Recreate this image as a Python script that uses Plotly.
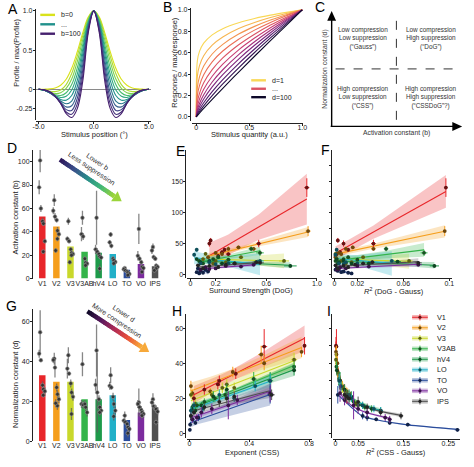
import numpy as np
import plotly.graph_objects as go

W, H = 474, 467
FONT = "Liberation Sans, Arial, Helvetica, sans-serif"

# ======================= DATA =======================
ROIS = ["V1", "V2", "V3", "V3AB", "hV4", "LO", "TO", "VO", "IPS"]

# --- A: normalised DoG profiles (right half, mirrored), b = 0 ... 100
PROFILE_POS = [0.0, 0.5, 1.0, 1.5, 2.0, 2.5, 3.0, 3.5, 4.0, 4.5, 5.0]
PROF_B000 = [1.0, 0.921, 0.719, 0.475, 0.267, 0.127, 0.051, 0.017, 0.005, 0.001, 0.0]
PROF_B010 = [1.0, 0.905, 0.680, 0.420, 0.200, 0.060, -0.010, -0.030, -0.025, -0.010, 0.0]
PROF_B020 = [1.0, 0.890, 0.630, 0.350, 0.130, 0.010, -0.045, -0.055, -0.035, -0.012, 0.0]
PROF_B030 = [1.0, 0.870, 0.570, 0.270, 0.060, -0.045, -0.080, -0.070, -0.040, -0.013, 0.0]
PROF_B040 = [1.0, 0.850, 0.510, 0.190, -0.010, -0.090, -0.105, -0.080, -0.045, -0.014, 0.0]
PROF_B050 = [1.0, 0.830, 0.450, 0.110, -0.080, -0.140, -0.130, -0.090, -0.045, -0.014, 0.0]
PROF_B060 = [1.0, 0.810, 0.380, 0.030, -0.150, -0.185, -0.150, -0.095, -0.045, -0.013, 0.0]
PROF_B070 = [1.0, 0.790, 0.310, -0.050, -0.210, -0.225, -0.165, -0.095, -0.043, -0.012, 0.0]
PROF_B080 = [1.0, 0.770, 0.240, -0.120, -0.270, -0.260, -0.175, -0.095, -0.040, -0.010, 0.0]
PROF_B090 = [1.0, 0.745, 0.170, -0.190, -0.320, -0.290, -0.180, -0.090, -0.035, -0.008, 0.0]
PROF_B100 = [1.0, 0.720, 0.100, -0.250, -0.360, -0.310, -0.180, -0.085, -0.030, -0.006, 0.0]
PROFILES = [PROF_B000, PROF_B010, PROF_B020, PROF_B030, PROF_B040, PROF_B050,
            PROF_B060, PROF_B070, PROF_B080, PROF_B090, PROF_B100]

# --- B: normalised responses, d = 1 ... 100
STIM_Q = [0.0, 0.01, 0.03, 0.07, 0.15, 0.25, 0.40, 0.55, 0.70, 0.85, 1.0]
RESP_D01 = [0.0, 0.525, 0.612, 0.689, 0.767, 0.824, 0.880, 0.920, 0.951, 0.977, 1.0]
RESP_D02 = [0.0, 0.380, 0.479, 0.572, 0.671, 0.747, 0.825, 0.882, 0.928, 0.966, 1.0]
RESP_D03 = [0.0, 0.276, 0.375, 0.475, 0.588, 0.678, 0.774, 0.846, 0.905, 0.955, 1.0]
RESP_D04 = [0.0, 0.199, 0.293, 0.394, 0.515, 0.616, 0.726, 0.811, 0.883, 0.945, 1.0]
RESP_D05 = [0.0, 0.138, 0.221, 0.319, 0.442, 0.551, 0.674, 0.773, 0.858, 0.932, 1.0]
RESP_D06 = [0.0, 0.095, 0.167, 0.258, 0.380, 0.493, 0.627, 0.737, 0.834, 0.920, 1.0]
RESP_D07 = [0.0, 0.066, 0.126, 0.208, 0.327, 0.441, 0.583, 0.703, 0.810, 0.908, 1.0]
RESP_D08 = [0.0, 0.046, 0.095, 0.168, 0.281, 0.395, 0.541, 0.670, 0.787, 0.897, 1.0]
RESP_D09 = [0.0, 0.030, 0.070, 0.133, 0.237, 0.349, 0.499, 0.635, 0.763, 0.883, 1.0]
RESP_D10 = [0.0, 0.020, 0.051, 0.104, 0.199, 0.308, 0.459, 0.602, 0.738, 0.870, 1.0]
RESP_D11 = [0.0, 0.013, 0.036, 0.080, 0.165, 0.268, 0.419, 0.567, 0.712, 0.856, 1.0]
RESPONSES = [RESP_D01, RESP_D02, RESP_D03, RESP_D04, RESP_D05, RESP_D06,
             RESP_D07, RESP_D08, RESP_D09, RESP_D10, RESP_D11]

# --- D: activation constant b (bars + subjects)
ACT_BAR = [53, 44.5, 27.5, 23, 22, 21, 7.5, 12.5, 10.5]
ACT_SUBJ = {
    "V1": [101, 78, 60, 49, 47, 32, 23], "V2": [67, 58, 53, 50, 41, 38, 34, 24],
    "V3": [49, 34, 32, 25, 22, 21, 20, 14], "V3AB": [52, 38, 36, 17, 13.6, 12.7, 11.3],
    "hV4": [52, 25, 23, 21, 19, 18, 8.5], "LO": [37.7, 31, 28, 17, 15.6, 14.2, 13],
    "TO": [9, 8, 7, 6, 5, 4, 3], "VO": [42.5, 19.5, 17, 14, 10, 9, 5.7],
    "IPS": [27, 24, 18.4, 17, 11, 10, 8.5, 7]}
ACT_SUBJ_ERR = {
    "V1": [10, 6, 3, 3, 2, 2, 2], "V2": [5, 3, 3, 2, 3, 2, 2, 2],
    "V3": [3, 2, 2, 2, 2, 2, 2, 2], "V3AB": [6, 6, 3, 2, 2, 2, 2],
    "hV4": [23, 4, 3, 2, 2, 2, 4], "LO": [2, 2, 2, 2, 2, 2, 2],
    "TO": [1, 1, 1, 1, 1, 1, 1], "VO": [13, 4, 2, 2, 2, 2, 2],
    "IPS": [3, 3, 2, 2, 2, 2, 2, 2]}

# --- G: normalization constant d (bars + subjects)
NORM_BAR = [33, 29.7, 29.7, 21, 21, 23, 10.6, 14.4, 17]
NORM_SUBJ = {
    "V1": [54.5, 43.8, 40.5, 28, 26, 25, 23], "V2": [41.3, 40.6, 36.8, 26.9, 23.5, 21, 17.7, 19],
    "V3": [43, 36.3, 33.8, 28.9, 24.4, 22.2, 13.6], "V3AB": [38.5, 18.6, 18.2, 18.6, 17, 14.4],
    "hV4": [45.4, 28.2, 24.4, 21, 17, 15.3, 14.4], "LO": [33, 27.7, 26.9, 22.2, 18.6, 15.3, 12.4],
    "TO": [12.8, 10.3, 9.5, 8.6, 7, 6.1, 4], "VO": [19.4, 18.6, 17, 15.6, 14.4, 13.6, 12.8],
    "IPS": [21, 19.4, 17.4, 16.4, 16, 14.8, 9.5]}
NORM_SUBJ_ERR = {
    "V1": [11, 2, 1, 2, 2, 2, 1], "V2": [3, 1.5, 5, 2, 2, 2, 2, 2],
    "V3": [4, 5, 1, 2, 2, 2, 3], "V3AB": [6, 2, 2, 2, 2, 2],
    "hV4": [13, 3, 20, 2, 2, 2, 2], "LO": [4, 2, 1, 2, 2, 2, 2],
    "TO": [2, 1, 1, 1, 1, 1, 2], "VO": [7, 2, 2, 2, 2, 2, 2],
    "IPS": [3, 2, 2, 2, 2, 2, 2]}

# --- E / F: activation constant b vs surround strength and R2(DoG-Gauss)
B_VAL = {
    "V1": [50, 55, 30, 36, 40, 33, 50, 140], "V2": [28, 35, 41.5, 44, 41.5, 70, 33],
    "V3": [25, 33.5, 22, 20, 28, 22, 18], "V3AB": [22, 18, 25, 24, 41.5, 35, 28],
    "hV4": [25, 20, 22, 18, 18, 21, 14], "LO": [32, 40, 18, 20, 18, 22, 17],
    "TO": [4, 2, 6, 3, 8, 5, 10], "VO": [8, 12, 10, 14, 13, 16, 9],
    "IPS": [15, 10, 14, 12, 18, 20, 19, 16]}
B_ERR = {
    "V1": [5, 4, 3, 3, 3, 3, 6, 15], "V2": [3, 3, 4, 3, 3, 8, 3],
    "V3": [3, 3, 2, 2, 2, 2, 2], "V3AB": [2, 2, 2, 2, 4, 5, 3],
    "hV4": [2, 2, 2, 2, 2, 2, 3], "LO": [3, 3, 2, 2, 2, 2, 2],
    "TO": [1, 1, 1, 1, 2, 1, 2], "VO": [2, 2, 2, 2, 2, 3, 2],
    "IPS": [2, 2, 2, 2, 2, 3, 2, 2]}
SURROUND = {
    "V1": [0.15, 0.16, 0.22, 0.25, 0.27, 0.30, 0.54, 0.92], "V2": [0.14, 0.20, 0.30, 0.38, 0.50, 0.93, 0.25],
    "V3": [0.10, 0.12, 0.20, 0.28, 0.40, 0.74, 0.18], "V3AB": [0.07, 0.10, 0.18, 0.30, 0.48, 0.55, 0.22],
    "hV4": [0.05, 0.08, 0.15, 0.25, 0.35, 0.53, 0.79], "LO": [0.03, 0.05, 0.08, 0.15, 0.30, 0.55, 0.20],
    "TO": [0.05, 0.07, 0.08, 0.10, 0.12, 0.14, 0.06], "VO": [0.08, 0.12, 0.20, 0.28, 0.40, 0.50, 0.15],
    "IPS": [0.06, 0.10, 0.15, 0.22, 0.35, 0.52, 0.55, 0.28]}
SURROUND_ERR = {
    "V1": [0.01, 0.01, 0.01, 0.01, 0.01, 0.02, 0.02, 0.02], "V2": [0.01, 0.01, 0.01, 0.02, 0.02, 0.02, 0.01],
    "V3": [0.01, 0.01, 0.01, 0.01, 0.02, 0.04, 0.01], "V3AB": [0.01, 0.01, 0.01, 0.02, 0.02, 0.03, 0.01],
    "hV4": [0.01, 0.01, 0.01, 0.02, 0.02, 0.03, 0.05], "LO": [0.01, 0.01, 0.01, 0.01, 0.02, 0.03, 0.01],
    "TO": [0.01, 0.01, 0.01, 0.01, 0.01, 0.01, 0.01], "VO": [0.01, 0.01, 0.01, 0.02, 0.02, 0.02, 0.01],
    "IPS": [0.01, 0.01, 0.01, 0.01, 0.02, 0.03, 0.03, 0.02]}
R2_DOG = {
    "V1": [0.008, 0.003, 0.001, 0.005, 0.012, 0.002, 0.034, 0.097], "V2": [0.001, 0.004, 0.010, 0.016, 0.034, 0.096, 0.006],
    "V3": [0.002, 0.001, 0.006, 0.015, 0.025, 0.065, 0.010], "V3AB": [0.001, 0.003, 0.008, 0.020, 0.045, 0.078, 0.012],
    "hV4": [0.002, 0.004, 0.008, 0.015, 0.030, 0.055, 0.087], "LO": [0.001, 0.002, 0.004, 0.010, 0.020, 0.050, 0.008],
    "TO": [0.006, 0.015, 0.003, 0.012, 0.001, 0.008, 0.002], "VO": [0.002, 0.005, 0.010, 0.020, 0.030, 0.073, 0.004],
    "IPS": [0.001, 0.003, 0.008, 0.012, 0.025, 0.033, 0.073, 0.018]}
R2_DOG_ERR = {
    "V1": [0.001, 0.001, 0.001, 0.001, 0.001, 0.001, 0.002, 0.001], "V2": [0.001, 0.001, 0.001, 0.001, 0.002, 0.001, 0.001],
    "V3": [0.001, 0.001, 0.001, 0.001, 0.002, 0.003, 0.001], "V3AB": [0.001, 0.001, 0.001, 0.001, 0.002, 0.003, 0.001],
    "hV4": [0.001, 0.001, 0.001, 0.001, 0.002, 0.003, 0.004], "LO": [0.001, 0.001, 0.001, 0.001, 0.001, 0.002, 0.001],
    "TO": [0.001, 0.001, 0.001, 0.001, 0.001, 0.001, 0.001], "VO": [0.001, 0.001, 0.001, 0.001, 0.002, 0.003, 0.001],
    "IPS": [0.001, 0.001, 0.001, 0.001, 0.002, 0.002, 0.003, 0.001]}

# --- H / I: normalization constant d vs CSS exponent and R2(CSS-Gauss)
D_VAL = {
    "V1": [20, 25, 30, 28, 34, 49.5, 50], "V2": [27, 23, 24, 35, 45, 40, 46.5],
    "V3": [22, 17, 22, 26, 28, 26, 42], "V3AB": [15, 16, 18, 20, 22, 31, 38],
    "hV4": [14, 13, 16, 21, 25, 30, 36], "LO": [13, 16, 14, 22, 20, 27, 30],
    "TO": [2, 5, 10, 8, 6, 9, 22], "VO": [8, 9, 12, 14, 16, 19, 23],
    "IPS": [10, 12, 15, 18, 20, 21, 22]}
D_ERR = {
    "V1": [3, 3, 3, 3, 3, 10, 5], "V2": [3, 2, 2, 3, 5, 4, 3],
    "V3": [2, 2, 2, 3, 3, 3, 4], "V3AB": [2, 2, 2, 2, 3, 4, 3],
    "hV4": [2, 2, 2, 3, 3, 5, 3], "LO": [2, 2, 2, 3, 2, 3, 4],
    "TO": [1, 1, 2, 1, 1, 2, 5], "VO": [2, 2, 3, 3, 8, 3, 5],
    "IPS": [2, 2, 2, 3, 3, 3, 3]}
EXPONENT = {
    "V1": [0.03, 0.10, 0.20, 0.19, 0.31, 0.50, 0.77], "V2": [0.01, 0.02, 0.14, 0.29, 0.48, 0.50, 0.75],
    "V3": [0.01, 0.04, 0.15, 0.22, 0.25, 0.30, 0.70], "V3AB": [0.02, 0.05, 0.10, 0.17, 0.24, 0.43, 0.70],
    "hV4": [0.02, 0.04, 0.08, 0.16, 0.25, 0.54, 0.70], "LO": [0.01, 0.03, 0.09, 0.20, 0.30, 0.44, 0.54],
    "TO": [0.003, 0.005, 0.01, 0.02, 0.04, 0.06, 0.54], "VO": [0.02, 0.05, 0.08, 0.15, 0.26, 0.32, 0.54],
    "IPS": [0.01, 0.03, 0.10, 0.20, 0.25, 0.30, 0.55]}
EXPONENT_ERR = {
    "V1": [0.01, 0.01, 0.01, 0.01, 0.01, 0.02, 0.01], "V2": [0.01, 0.01, 0.01, 0.01, 0.02, 0.01, 0.01],
    "V3": [0.01, 0.01, 0.01, 0.01, 0.01, 0.01, 0.02], "V3AB": [0.01, 0.01, 0.01, 0.01, 0.01, 0.02, 0.01],
    "hV4": [0.01, 0.01, 0.01, 0.01, 0.01, 0.02, 0.01], "LO": [0.01, 0.01, 0.01, 0.01, 0.01, 0.02, 0.01],
    "TO": [0.005, 0.005, 0.005, 0.01, 0.01, 0.01, 0.02], "VO": [0.01, 0.01, 0.01, 0.01, 0.01, 0.01, 0.02],
    "IPS": [0.01, 0.01, 0.01, 0.01, 0.01, 0.01, 0.02]}
R2_CSS = {
    "V1": [0.025, 0.020, 0.010, 0.012, 0.006, 0.002, 0.001], "V2": [0.015, 0.030, 0.025, 0.005, 0.002, 0.004, 0.001],
    "V3": [0.030, 0.045, 0.020, 0.012, 0.010, 0.015, 0.001], "V3AB": [0.065, 0.050, 0.040, 0.030, 0.025, 0.008, 0.002],
    "hV4": [0.080, 0.100, 0.060, 0.035, 0.020, 0.010, 0.003], "LO": [0.100, 0.060, 0.085, 0.030, 0.035, 0.012, 0.008],
    "TO": [0.27, 0.16, 0.06, 0.09, 0.12, 0.07, 0.005], "VO": [0.12, 0.11, 0.07, 0.05, 0.04, 0.02, 0.01],
    "IPS": [0.145, 0.10, 0.07, 0.05, 0.03, 0.025, 0.02]}
R2_CSS_ERR = {
    "V1": [0.002, 0.002, 0.002, 0.002, 0.002, 0.001, 0.001], "V2": [0.002, 0.002, 0.002, 0.002, 0.001, 0.001, 0.001],
    "V3": [0.002, 0.003, 0.002, 0.002, 0.002, 0.002, 0.001], "V3AB": [0.003, 0.003, 0.002, 0.002, 0.002, 0.002, 0.001],
    "hV4": [0.004, 0.004, 0.003, 0.002, 0.002, 0.002, 0.001], "LO": [0.004, 0.003, 0.004, 0.002, 0.002, 0.002, 0.001],
    "TO": [0.006, 0.006, 0.003, 0.004, 0.004, 0.003, 0.001], "VO": [0.004, 0.004, 0.003, 0.002, 0.002, 0.002, 0.001],
    "IPS": [0.005, 0.004, 0.003, 0.002, 0.002, 0.002, 0.002]}

# ======================= STYLE =======================
ROI_COLORS = ["#e8262a", "#f59e1c", "#c9d82b", "#34b44a", "#1e9a4a",
              "#22b0c8", "#2a4c9c", "#7c2b9e", "#505050"]
JITTER = [-0.15, -0.22, -0.10, 0.02, 0.08, 0.18, 0.07, -0.05]
T_CRIT = 2.3
TICK = 7
TITLE = 7.5
INK = "#222222"


def hex2rgb(h):
    h = h.lstrip("#")
    return tuple(int(h[i:i + 2], 16) for i in (0, 2, 4))


def rgba(h, a):
    r, g, b = hex2rgb(h)
    return f"rgba({r},{g},{b},{a})"


def darken(h, f=0.5):
    r, g, b = hex2rgb(h)
    return f"rgb({int(r * f)},{int(g * f)},{int(b * f)})"


def ramp(stops, n):
    rgb = [hex2rgb(s) for s in stops]
    out = []
    for k in range(n):
        t = k / (n - 1) * (len(rgb) - 1)
        i = min(int(t), len(rgb) - 2)
        f = t - i
        c = [round(rgb[i][j] * (1 - f) + rgb[i + 1][j] * f) for j in range(3)]
        out.append(f"rgb({c[0]},{c[1]},{c[2]})")
    return out


def PX(x):
    return x / W


def PY(y):
    return 1 - y / H


def ids(n):
    return ("x", "y") if n == 1 else (f"x{n}", f"y{n}")


AXBASE = dict(showgrid=False, zeroline=False, showline=True, linecolor=INK, linewidth=1,
              ticks="outside", ticklen=2, tickwidth=1, tickcolor=INK,
              tickfont=dict(family=FONT, size=TICK, color=INK))

layout = dict(width=W, height=H, margin=dict(l=0, r=0, t=0, b=0), autosize=False,
              paper_bgcolor="white", plot_bgcolor="white", showlegend=False,
              font=dict(family=FONT, size=TICK, color=INK))


def set_axes(n, xdom, ydom, xr, yr, xline, yline, xt, yt, ylabels=True, bar=False):
    xk = "xaxis" if n == 1 else f"xaxis{n}"
    yk = "yaxis" if n == 1 else f"yaxis{n}"
    xa = dict(AXBASE, domain=[PX(xdom[0]), PX(xdom[1])], range=xr,
              tickvals=xt[0], ticktext=xt[1], tickangle=0, ticklabelstandoff=-4)
    if bar:
        xa["ticks"] = ""
        xa["showline"] = False
        xa["ticklabelstandoff"] = -1
    ya = dict(AXBASE, domain=[PY(ydom[1]), PY(ydom[0])], range=yr,
              tickvals=yt[0], showticklabels=ylabels, ticklabelstandoff=-1)
    if ylabels:
        ya["ticktext"] = yt[1]
    xid, yid = ids(n)
    if xline is None:
        xa["anchor"] = yid
    else:
        xa["anchor"] = "free"
        xa["position"] = PY(xline)
    ya["anchor"] = "free"
    ya["position"] = PX(yline)
    layout[xk] = xa
    layout[yk] = ya


traces, shapes, annotations = [], [], []


def text(x, y, s, size=TITLE, angle=0, xanchor="center", color=INK, yanchor="middle"):
    annotations.append(dict(x=PX(x), y=PY(y), xref="paper", yref="paper", text=s,
                            showarrow=False, textangle=angle, xanchor=xanchor, yanchor=yanchor,
                            font=dict(family=FONT, size=size, color=color)))


def seg(x0, y0, x1, y1, color, width, dash=None):
    ln = dict(color=color, width=width)
    if dash:
        ln["dash"] = dash
    shapes.append(dict(type="line", xref="paper", yref="paper", x0=PX(x0), y0=PY(y0),
                       x1=PX(x1), y1=PY(y1), line=ln, layer="above"))


def tri(tip, base_center, half_w, color):
    tx, ty = tip
    bx, by = base_center
    L = np.hypot(tx - bx, ty - by)
    nx, ny = -(ty - by) / L, (tx - bx) / L
    p1 = (bx + nx * half_w, by + ny * half_w)
    p2 = (bx - nx * half_w, by - ny * half_w)
    path = f"M {PX(tx)} {PY(ty)} L {PX(p1[0])} {PY(p1[1])} L {PX(p2[0])} {PY(p2[1])} Z"
    shapes.append(dict(type="path", xref="paper", yref="paper", path=path,
                       fillcolor=color, line=dict(width=0), layer="above"))


# ======================= PANEL A =======================
set_axes(1, (33, 150), (7.6, 120), [-5.2, 5.2], [-0.392, 1.03], 121.5, 31.5,
         ([-5, 0, 5], ["-5.0", "0.0", "5.0"]), ([-0.25, 0, 0.5, 1.0], ["-0.25", "0", "0.5", "1.0"]))
layout["yaxis"]["zeroline"] = True
layout["yaxis"]["zerolinecolor"] = "#8a8a8a"
layout["yaxis"]["zerolinewidth"] = 1
A_COLORS = ramp(["#d9e21b", "#8fd744", "#35b779", "#21918c", "#31688e", "#443a83", "#46206e"], len(PROFILES))
for prof, col in zip(PROFILES, A_COLORS):
    xs = [-p for p in PROFILE_POS[::-1]] + PROFILE_POS[1:]
    ys = prof[::-1] + prof[1:]
    traces.append(go.Scatter(x=xs, y=ys, mode="lines", line=dict(color=col, width=1.1, shape="spline"),
                             xaxis="x", yaxis="y", hoverinfo="skip"))
for (yy, lab, col) in [(14, "b=0", A_COLORS[0]), (23.5, "...", A_COLORS[5]), (33, "b=100", A_COLORS[-1])]:
    seg(37, yy, 52, yy, col, 2.4)
    text(56, yy, lab, size=TICK, xanchor="left")
text(92, 135, "Stimulus position (°)")
text(12.5, 52, "Profile / max(Profile)", angle=-90)

# ======================= PANEL B =======================
set_axes(2, (191.7, 305.1), (6.8, 121.3), [-0.04, 1.01], [-0.04, 1.02], 123, 189.5,
         ([0, 0.5, 1.0], ["0", "0.5", "1.0"]),
         ([0, 0.2, 0.4, 0.6, 0.8, 1.0], ["0.0", "0.2", "0.4", "0.6", "0.8", "1.0"]))
B_COLORS = ramp(["#f9d857", "#f6a04d", "#e8625a", "#c83e73", "#8c2981", "#4a1a6b", "#0d0829"], len(RESPONSES))
for resp, col in zip(RESPONSES, B_COLORS):
    traces.append(go.Scatter(x=STIM_Q, y=resp, mode="lines", line=dict(color=col, width=1.1, shape="spline"),
                             xaxis="x2", yaxis="y2", hoverinfo="skip"))
for (yy, lab, col) in [(80, "d=1", B_COLORS[0]), (88.5, "...", B_COLORS[4]), (97, "d=100", B_COLORS[-1])]:
    seg(252, yy, 267, yy, col, 2.4)
    text(271, yy, lab, size=TICK, xanchor="left")
text(250, 135, "Stimulus quantity (a.u.)")
text(173.5, 62, "Response / max(response)", angle=-90)

# ======================= PANEL C =======================
seg(334, 127, 334, 19, "black", 1.4)
tri((334, 10), (334, 20), 4.5, "black")
seg(333, 126.5, 458, 126.5, "black", 1.4)
tri((467, 126.5), (457, 126.5), 4.5, "black")
seg(400, 20, 400, 121, "#333", 1, dash="dash")
seg(338, 68.5, 463, 68.5, "#333", 1, dash="dash")
CSIZE = 6.4
text(366, 38, "Low compression<br>Low suppression<br>(“Gauss”)", size=CSIZE, color="#333")
text(435, 38, "Low compression<br>High suppression<br>(“DoG”)", size=CSIZE, color="#333")
text(366, 97, "High compression<br>Low suppression<br>(“CSS”)", size=CSIZE, color="#333")
text(435, 97, "High compression<br>High suppression<br>(“CSSDoG”?)", size=CSIZE, color="#333")
text(400, 133, "Activation constant (b)", size=CSIZE + 0.4, color="#333")
text(327.5, 69, "Normalization constant (d)", size=CSIZE + 0.4, angle=-90, color="#333")


# ======================= BAR PANELS (D, G) =======================
def bar_panel(n, bars, subj, subj_err):
    xid, yid = ids(n)
    idx = list(range(len(ROIS)))
    traces.append(go.Bar(x=idx, y=bars, width=0.46, marker=dict(color=ROI_COLORS, line=dict(width=0)),
                         xaxis=xid, yaxis=yid, hoverinfo="skip"))
    for i, roi in enumerate(ROIS):
        vals = subj[roi]
        traces.append(go.Scatter(
            x=[i + JITTER[k] for k in range(len(vals))], y=vals, mode="markers",
            marker=dict(size=3.8, color="rgba(45,45,45,0.9)", line=dict(width=0.6, color="rgba(160,160,160,0.9)")),
            error_y=dict(type="data", array=subj_err[roi], color="rgba(95,95,95,0.75)", thickness=1.3, width=0),
            xaxis=xid, yaxis=yid, hoverinfo="skip"))


def grad_arrow(x0, y0, x1, y1, colors, body=4.4, head_len=9, head_w=12):
    L = np.hypot(x1 - x0, y1 - y0)
    ux, uy = (x1 - x0) / L, (y1 - y0) / L
    bx, by = x1 - ux * head_len, y1 - uy * head_len
    n = len(colors)
    for k in range(n):
        t0 = k / n
        t1 = min(1.0, (k + 1) / n + 0.03)
        seg(x0 + (bx - x0) * t0, y0 + (by - y0) * t0, x0 + (bx - x0) * t1, y0 + (by - y0) * t1, colors[k], body)
    tri((x1, y1), (bx, by), head_w / 2, colors[-1])


# D
set_axes(3, (30.4, 162.6), (150.2, 280), [-0.6, 8.6], [0, 110], None, 28.5,
         (list(range(len(ROIS))), ROIS), ([0, 20, 40, 60, 80, 100], ["0", "20", "40", "60", "80", "100"]),
         bar=True)
bar_panel(3, ACT_BAR, ACT_SUBJ, ACT_SUBJ_ERR)
grad_arrow(57, 160, 120, 202, ramp(["#2e1a5c", "#3b4f8a", "#2a8c8a", "#3fb67a", "#9ad43a"], 26))
text(95, 162, "Lower b", size=7, angle=33.5, color="#333")
text(89, 169.5, "Less suppression", size=7, angle=33.5, color="#333")
text(11.5, 218, "Activation constant (b)", angle=-90)

# G
set_axes(6, (30.4, 162.6), (310.9, 444), [-0.6, 8.6], [0, 66], None, 28.5,
         (list(range(len(ROIS))), ROIS), ([0, 20, 40, 60], ["0", "20", "40", "60"]), bar=True)
bar_panel(6, NORM_BAR, NORM_SUBJ, NORM_SUBJ_ERR)
grad_arrow(85, 313, 148, 354, ramp(["#120a2a", "#5a1a5e", "#b02a55", "#e8503a", "#f7a93a"], 26))
text(122, 315.5, "Lower d", size=7, angle=33.5, color="#333")
text(115, 322.5, "More compression", size=7, angle=33.5, color="#333")
text(11.5, 386, "Normalization constant (d)", angle=-90)


# ======================= SCATTER PANELS (E, F, H, I) =======================
def scatter_panel(n, xd, xerr, yd, yerr, logfit=False):
    xid, yid = ids(n)
    shape = "spline" if logfit else "linear"
    bands, lines, pts = [], [], []
    for roi, col in zip(ROIS, ROI_COLORS):
        x = np.array(xd[roi], float)
        y = np.array(yd[roi], float)
        u = np.log(x) if logfit else x
        slope, icpt = np.polyfit(u, y, 1)
        m = len(u)
        s = np.sqrt(np.sum((y - (icpt + slope * u)) ** 2) / (m - 2))
        suu = np.sum((u - u.mean()) ** 2)
        order = np.argsort(u)
        us, xs = u[order], x[order]
        fit = icpt + slope * us
        half = T_CRIT * s * np.sqrt(1.0 / m + (us - u.mean()) ** 2 / suu)
        bands.append(go.Scatter(x=xs, y=fit - half, mode="lines", line=dict(width=0, shape=shape),
                                xaxis=xid, yaxis=yid, hoverinfo="skip"))
        bands.append(go.Scatter(x=xs, y=fit + half, mode="lines", line=dict(width=0, shape=shape),
                                fill="tonexty", fillcolor=rgba(col, 0.27), xaxis=xid, yaxis=yid, hoverinfo="skip"))
        lines.append(go.Scatter(x=xs, y=fit, mode="lines", line=dict(color=col, width=1.1, shape=shape),
                                xaxis=xid, yaxis=yid, hoverinfo="skip"))
        pts.append(go.Scatter(x=x, y=y, mode="markers",
                              marker=dict(size=3.8, color=darken(col, 0.45)),
                              error_x=dict(type="data", array=xerr[roi], color=col, thickness=1, width=0),
                              error_y=dict(type="data", array=yerr[roi], color=col, thickness=1, width=0),
                              xaxis=xid, yaxis=yid, hoverinfo="skip"))
    traces.extend(bands + lines + pts)


# E
set_axes(4, (186.1, 319), (150.6, 279), [-0.03, 1.0], [-4.8, 200], 279.5, 185,
         ([0, 0.2, 0.6, 1.0], ["0", "0.2", "0.6", "1.0"]), ([0, 50, 100, 150], ["0", "50", "100", "150"]))
scatter_panel(4, SURROUND, SURROUND_ERR, B_VAL, B_ERR)
text(252, 292.5, "Surround Strength (DoG)")

# F
set_axes(5, (334.4, 456.3), (150.6, 279), [-0.002, 0.102], [-4.8, 200], 279.5, 333,
         ([0, 0.02, 0.06, 0.1], ["0", "0.02", "0.06", "0.1"]),
         ([0, 25, 50, 75, 100, 125, 150, 175], None), ylabels=False)
scatter_panel(5, R2_DOG, R2_DOG_ERR, B_VAL, B_ERR)
text(398, 292.5, "<i>R</i><sup>2</sup> (DoG - Gauss)")

# H
set_axes(7, (186.7, 314), (315.9, 440.5), [-0.015, 0.82], [-2.5, 68], 441.5, 185,
         ([0, 0.4, 0.8], ["0", "0.4", "0.8"]), ([0, 20, 40, 60], ["0", "20", "40", "60"]))
scatter_panel(7, EXPONENT, EXPONENT_ERR, D_VAL, D_ERR)
text(253, 455, "Exponent (CSS)")

# I
set_axes(8, (335.2, 464.5), (315.9, 440.5), [-0.006, 0.275], [-2.5, 68], 441.5, 333.5,
         ([0, 0.05, 0.15, 0.25], ["0", "0.05", "0.15", "0.25"]),
         ([0, 10, 20, 30, 40, 50, 60], None), ylabels=False)
scatter_panel(8, R2_CSS, R2_CSS_ERR, D_VAL, D_ERR, logfit=True)
text(400, 455, "<i>R</i><sup>2</sup> (CSS - Gauss)")

# legend in I
for i, (roi, col) in enumerate(zip(ROIS, ROI_COLORS)):
    yy = 319 + 10.6 * i
    seg(416, yy, 432, yy, rgba(col, 0.35), 4.5)
    seg(416, yy, 432, yy, col, 1)
    seg(424, yy - 3.2, 424, yy + 3.2, col, 1)
    shapes.append(dict(type="circle", xref="paper", yref="paper", x0=PX(422.4), x1=PX(425.6),
                       y0=PY(yy + 1.6), y1=PY(yy - 1.6), fillcolor=darken(col, 0.45),
                       line=dict(width=0), layer="above"))
    text(439, yy, roi, size=TICK + 0.3, xanchor="left")

# ======================= PANEL LETTERS =======================
for lab, x, y in [("A", 9, 8), ("B", 167, 6.5), ("C", 322, 6.5), ("D", 8, 148), ("E", 180, 151),
                  ("F", 327.5, 150), ("G", 8, 308), ("H", 176, 312.5), ("I", 331, 312.5)]:
    text(x, y, lab, size=14, color="black")

layout["shapes"] = shapes
layout["annotations"] = annotations
fig = go.Figure(data=traces, layout=layout)
fig.write_html("out.html", config={"displayModeBar": False},
               post_script="document.body.style.margin='0px';document.body.style.overflow='hidden';")
